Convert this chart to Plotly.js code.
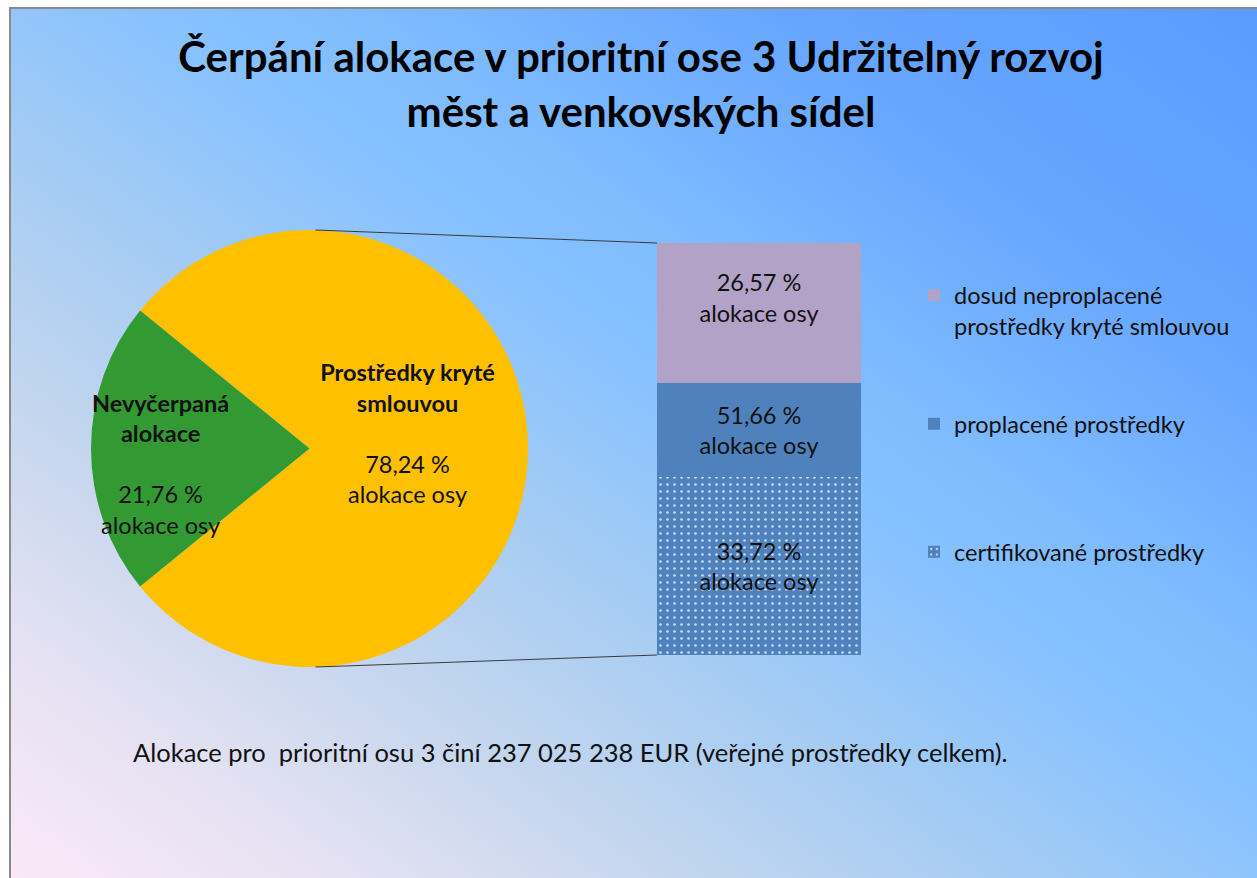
<!DOCTYPE html>
<html>
<head>
<meta charset="utf-8">
<script src="https://cdn.plot.ly/plotly-3.0.1.min.js"></script>
<style>
  html, body { margin: 0; padding: 0; background: #ffffff; }
  #wrap { position: relative; width: 1257px; height: 878px; overflow: hidden; }
  #bg {
    position: absolute; left: 9px; top: 7px; right: 0; bottom: 0;
    border-left: 2px solid #8a8a8a; border-top: 2px solid #8a8a8a;
    background: linear-gradient(216deg, #5B9BFF 0%, #66A6FF 20%, #80BDFF 38%, #88C2FF 46%, #A3CBF4 58%, #C4D6EE 73%, #E6E2F3 87%, #FAE8F8 100%);
  }
  #chart { position: absolute; left: 0; top: 0; width: 1257px; height: 878px; }
</style>
</head>
<body>
<div id="wrap"><div id="bg"></div><div id="chart"></div></div>
<script>
// ---- data ----
const pieLabels = ['Prostředky kryté smlouvou', 'Nevyčerpaná alokace'];
const pieLabelLines = ['Prostředky kryté<br>smlouvou', 'Nevyčerpaná<br>alokace'];
const pieValues = [78.24, 21.76];
const pieValueText = ['78,24 %', '21,76 %'];
const pieColors = ['#FFC000', '#339933'];

// stacked bar (breakdown of "Prostředky kryté smlouvou"), bottom to top
const barNames = ['certifikované prostředky', 'proplacené prostředky', 'dosud neproplacené<br>prostředky kryté smlouvou'];
const barSegments = [33.72, 17.94, 26.57];
const barValueText = ['33,72 %', '51,66 %', '26,57 %'];
const barColors = ['#4F81BD', '#4F81BD', '#B3A2C7'];
const barLegends = ['legend3', 'legend2', 'legend'];
const unitText = 'alokace osy';

const titleText = 'Čerpání alokace v prioritní ose 3 Udržitelný rozvoj<br>měst a venkovských sídel';
const noteText = 'Alokace pro\u00A0 prioritní osu 3 činí 237 025 238 EUR (veřejné prostředky celkem).';

// ---- layout helpers ----
const W = 1257, H = 878;
const px = x => x / W;
const py = y => 1 - y / H;
const FONT = 'Lato, "Open Sans", sans-serif';
const TXT = '#111111';
const FS = 23.5;
const NB = '\u00A0';

const pieDom = { x: [px(91), px(528)], y: [py(667), py(230)] };
const barDom = { x: [px(657), px(861)], y: [py(655), py(243)] };

const pieTotal = pieValues.reduce((a, b) => a + b, 0);
const rotation = 270 + 180 * pieValues[1] / pieTotal;

// label nudges (blank padding line before / after), to match the label placement of the reference
const piePad = ['after', 'before'];
const barPad = ['', '', 'after'];
const pad = (s, p) => p === 'after' ? s + '<br>' + NB : (p === 'before' ? NB + '<br>' + s : s);

const pieText = pieLabelLines.map((l, i) => pad('<b>' + l + '</b><br><br>' + pieValueText[i] + '<br>' + unitText, piePad[i]));

const traces = [{
  type: 'pie',
  labels: pieLabels,
  values: pieValues,
  sort: false,
  direction: 'clockwise',
  rotation: rotation,
  domain: pieDom,
  marker: { colors: pieColors, line: { width: 0 } },
  text: pieText,
  textinfo: 'text',
  textposition: 'inside',
  insidetextorientation: 'horizontal',
  insidetextfont: { family: FONT, size: FS, color: TXT },
  hoverinfo: 'none',
  showlegend: false
}];

barSegments.forEach((v, i) => {
  const t = {
    type: 'bar',
    name: barNames[i],
    x: [0],
    y: [v],
    width: [1],
    text: [pad(barValueText[i] + '<br>' + unitText, barPad[i])],
    textposition: 'inside',
    insidetextanchor: 'middle',
    textangle: 0,
    textfont: { family: FONT, size: FS, color: TXT },
    marker: { color: barColors[i], line: { width: 0 } },
    legend: barLegends[i],
    hoverinfo: 'none',
    xaxis: 'x', yaxis: 'y'
  };
  if (i === 0) {
    t.marker.pattern = { shape: '.', fillmode: 'overlay', fgcolor: '#ffffff', fgopacity: 0.7, size: 7, solidity: 0.12 };
  }
  traces.push(t);
});

const barTotal = barSegments.reduce((a, b) => a + b, 0);

// pie geometry for connector lines
const pcx = (pieDom.x[0] + pieDom.x[1]) / 2;
const pr = Math.min((pieDom.x[1] - pieDom.x[0]) * W, (pieDom.y[1] - pieDom.y[0]) * H) / 2;
const pcy = (pieDom.y[0] + pieDom.y[1]) / 2;

const lineStyle = { color: '#3a3a3a', width: 1 };
const shapes = [
  { type: 'line', xref: 'paper', yref: 'paper', x0: pcx + 6 / W, y0: pcy + pr / H, x1: barDom.x[0], y1: barDom.y[1], line: lineStyle },
  { type: 'line', xref: 'paper', yref: 'paper', x0: pcx + 6 / W, y0: pcy - pr / H, x1: barDom.x[0], y1: barDom.y[0], line: lineStyle }
];

const legendBase = { xanchor: 'left', yanchor: 'middle', valign: 'top', bgcolor: 'rgba(0,0,0,0)', borderwidth: 0,
  font: { family: FONT, size: FS, color: TXT }, itemclick: false, itemdoubleclick: false };

const layout = {
  width: W, height: H,
  margin: { l: 0, r: 0, t: 0, b: 0 },
  paper_bgcolor: 'rgba(0,0,0,0)',
  plot_bgcolor: 'rgba(0,0,0,0)',
  font: { family: FONT, color: TXT },
  title: {
    text: '<b>' + titleText + '</b>',
    font: { family: FONT, size: 42, color: '#000000' },
    x: px(641), xanchor: 'center', xref: 'container',
    y: 1 - 72 / H, yanchor: 'top', yref: 'container'
  },
  barmode: 'stack',
  bargap: 0,
  xaxis: { domain: barDom.x, range: [-0.5, 0.5], visible: false, fixedrange: true },
  yaxis: { domain: barDom.y, range: [0, barTotal], visible: false, fixedrange: true },
  showlegend: true,
  legend: Object.assign({}, legendBase, { x: px(914), y: py(311) }),
  legend2: Object.assign({}, legendBase, { x: px(914), y: py(424) }),
  legend3: Object.assign({}, legendBase, { x: px(914), y: py(552) }),
  uniformtext: { mode: 'show', minsize: FS },
  shapes: shapes,
  annotations: [{
    xref: 'paper', yref: 'paper', x: px(131), y: py(752), xanchor: 'left', yanchor: 'middle',
    showarrow: false, text: noteText, font: { family: FONT, size: 25.5, color: TXT }
  }]
};

Plotly.newPlot('chart', traces, layout, { displayModeBar: false, staticPlot: true });
</script>
</body>
</html>
